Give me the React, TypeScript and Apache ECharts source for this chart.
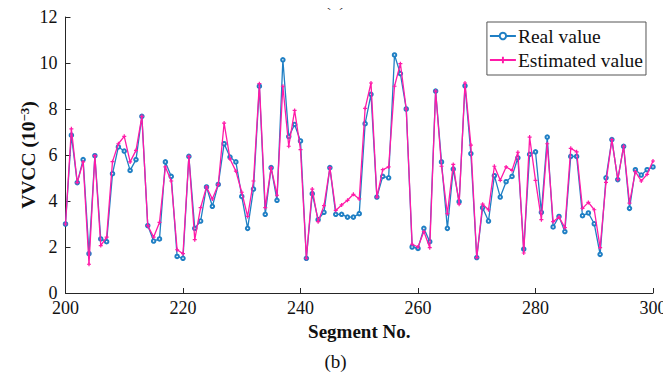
import React, { useEffect, useRef } from "react";
import * as echarts from "echarts";

const segments: number[] = Array.from({ length: 101 }, (_, i) => 200 + i);

const realValue: number[] = [
  3.0, 6.86, 4.8, 5.8, 1.71, 5.97, 2.35, 2.23, 5.19, 6.35,
  6.17, 5.33, 5.8, 7.68, 2.93, 2.26, 2.35, 5.7, 5.07, 1.59,
  1.51, 5.94, 2.81, 3.13, 4.61, 3.77, 4.72, 6.49, 5.91, 5.7,
  4.2, 2.81, 4.52, 8.99, 3.42, 5.45, 4.03, 10.14, 6.8, 7.33,
  6.61, 1.51, 4.32, 3.19, 3.51, 5.45, 3.42, 3.42, 3.3, 3.3,
  3.45, 7.36, 8.64, 4.17, 5.07, 5.01, 10.35, 9.54, 8.0, 2.0,
  1.94, 2.81, 2.23, 8.78, 5.7, 2.81, 5.39, 3.97, 9.01, 6.06,
  1.54, 3.71, 3.13, 5.1, 4.17, 4.84, 5.07, 5.88, 1.91, 6.03,
  6.14, 3.51, 6.78, 2.87, 3.33, 2.67, 5.94, 5.94, 3.36, 3.48,
  3.01, 1.68, 5.01, 6.67, 4.93, 6.38, 3.68, 5.36, 5.13, 5.36,
  5.48,
];

const estimatedValue: number[] = [
  3.0, 7.14, 4.8, 5.7, 1.25, 5.97, 2.06, 2.43, 5.71, 6.49,
  6.81, 5.7, 6.2, 7.68, 2.93, 2.43, 3.07, 5.48, 4.87, 1.88,
  1.71, 5.94, 2.32, 3.71, 4.61, 4.09, 4.72, 7.39, 5.83, 5.3,
  4.38, 3.33, 4.87, 9.1, 3.71, 5.45, 4.25, 8.99, 6.38, 7.94,
  6.23, 1.51, 4.52, 3.1, 3.8, 5.45, 3.59, 3.83, 4.03, 4.29,
  4.09, 8.03, 9.13, 4.17, 5.36, 5.48, 8.99, 9.97, 8.0, 2.12,
  2.0, 2.67, 1.97, 8.78, 5.51, 3.45, 5.59, 3.86, 9.13, 6.43,
  1.54, 3.86, 3.62, 5.51, 4.9, 5.48, 5.33, 6.12, 1.74, 6.78,
  4.9, 3.19, 6.49, 3.1, 3.3, 2.84, 6.29, 6.14, 3.68, 3.94,
  3.62, 1.97, 4.81, 6.67, 4.93, 6.38, 3.91, 5.28, 4.87, 5.16,
  5.74,
];

const xTicks = { min: 200, max: 300, interval: 20 };
const yTicks = { min: 0, max: 12, interval: 2 };

const FONT = "'Liberation Serif', 'Times New Roman', serif";
const BLUE = "#1f7fc4";
const PINK = "#ff1aa8";
const PLUS = "path://M-0.3,-1H0.3V-0.3H1V0.3H0.3V1H-0.3V0.3H-1V-0.3H-0.3Z";

export default function App() {
  const ref = useRef<HTMLDivElement>(null);
  useEffect(() => {
    if (!ref.current) return;
    const chart = echarts.init(ref.current, undefined, { renderer: "svg" });
    const axisLine = { show: true, lineStyle: { color: "#262626", width: 1 } };
    chart.setOption({
      animation: false,
      backgroundColor: "#ffffff",
      grid: { left: 65.5, right: 18, top: 17, bottom: 87, containLabel: false },
      legend: {
        top: 22,
        right: 25,
        orient: "vertical",
        backgroundColor: "#ffffff",
        borderColor: "#555555",
        borderWidth: 1,
        borderRadius: 0,
        padding: [4, 3, 5, 2],
        itemGap: 4,
        itemWidth: 26,
        itemHeight: 8,
        textStyle: { fontFamily: FONT, fontSize: 19.5, color: "#111111", padding: [0, 0, 0, -3] },
        data: ["Real value", "Estimated value"],
      },
      xAxis: {
        type: "value",
        min: xTicks.min,
        max: xTicks.max,
        interval: xTicks.interval,
        name: "Segment No.",
        nameLocation: "middle",
        nameGap: 29,
        nameMoveOverlap: false,
        nameTextStyle: { fontFamily: FONT, fontSize: 19, fontWeight: "bold", color: "#111111" },
        axisLine,
        axisTick: { show: true, inside: true, length: 5, lineStyle: { color: "#262626" } },
        axisLabel: { fontFamily: FONT, fontSize: 18, color: "#111111", margin: 6 },
        splitLine: { show: false },
      },
      yAxis: {
        type: "value",
        min: yTicks.min,
        max: yTicks.max,
        interval: yTicks.interval,
        name: "{a|VVCC (10}{s|−3}{a|)}",
        nameLocation: "middle",
        nameGap: 27,
        nameMoveOverlap: false,
        nameRotate: 90,
        nameTextStyle: {
          rich: {
            a: { fontFamily: FONT, fontSize: 19.5, fontWeight: "bold", color: "#111111" },
            s: { fontFamily: FONT, fontSize: 13, fontWeight: "bold", color: "#111111", verticalAlign: "top", padding: [0, 0, 8, 0] },
          },
        },
        axisLine,
        axisTick: { show: true, inside: true, length: 5, lineStyle: { color: "#262626" } },
        axisLabel: { fontFamily: FONT, fontSize: 18, color: "#111111", margin: 8 },
        splitLine: { show: false },
      },
      series: [
        {
          name: "Real value",
          type: "line",
          data: segments.map((s, i) => [s, realValue[i]]),
          symbol: "emptyCircle",
          symbolSize: 3.5,
          showAllSymbol: true,
          color: BLUE,
          lineStyle: { color: BLUE, width: 1.3 },
          itemStyle: { color: BLUE, borderColor: BLUE, borderWidth: 0.8 },
          z: 2,
        },
        {
          name: "Estimated value",
          type: "line",
          data: segments.map((s, i) => [s, estimatedValue[i]]),
          symbol: PLUS,
          symbolSize: 4,
          showAllSymbol: true,
          color: PINK,
          lineStyle: { color: PINK, width: 1.3 },
          itemStyle: { color: PINK },
          z: 3,
        },
      ],
      graphic: [
        {
          type: "text",
          left: "center",
          top: 352,
          style: { text: "(b)", font: `19px ${FONT}`, fill: "#111111" },
        },
        {
          type: "text",
          x: 335,
          y: -10,
          style: { text: "(a)", font: `19px ${FONT}`, fill: "#111111", align: "center" },
        },
      ],
    });
    return () => chart.dispose();
  }, []);
  return <div ref={ref} style={{ width: 671, height: 380, margin: -8 }} />;
}
